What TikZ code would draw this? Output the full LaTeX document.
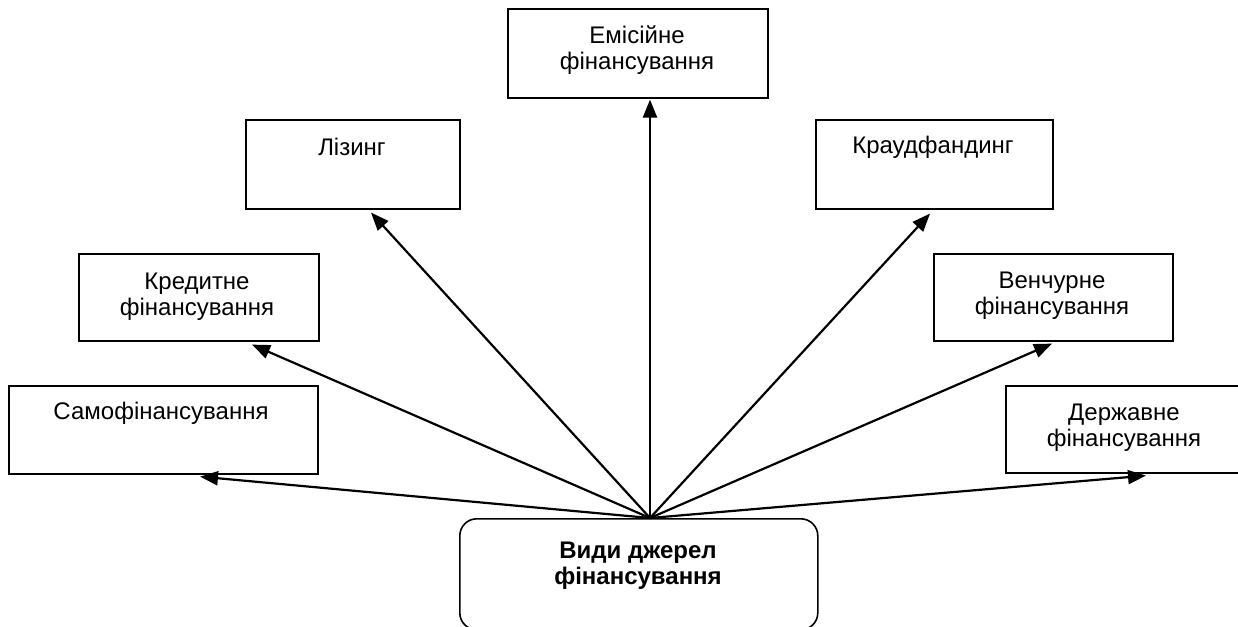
\documentclass[tikz,border=0pt]{standalone}
\usepackage{fontspec}
\setmainfont{Liberation Sans}
\usetikzlibrary{arrows.meta,calc}
\begin{document}
\begin{tikzpicture}[x=0.5pt,y=-0.5pt,
  box/.style={draw, line width=0.8pt, rectangle, inner sep=0pt, anchor=north west},
  txt/.style={align=center, inner sep=0pt, font=\fontsize{12pt}{13.2pt}\selectfont},
  arr/.style={-{Triangle[length=9pt,width=7pt]}, line width=1.1pt}]
\useasboundingbox (0,0) rectangle (1238,627);

% boxes
\node[box, minimum width=130pt, minimum height=44.5pt] (emis) at (507,8) {};
\node[box, minimum width=107pt, minimum height=44.5pt] (liz) at (245,119) {};
\node[box, minimum width=118.5pt, minimum height=44.5pt] (kraud) at (815,119) {};
\node[box, minimum width=120pt, minimum height=43.5pt] (kred) at (78,253) {};
\node[box, minimum width=119.5pt, minimum height=43.5pt] (venc) at (933,253) {};
\node[box, minimum width=154.5pt, minimum height=44pt] (samo) at (8,385) {};
\node[box, minimum width=122.5pt, minimum height=43.5pt] (derzh) at (1005,385) {};
\node[box, rounded corners=8.5pt, minimum width=179pt, minimum height=55.5pt] (bot) at (459,518) {};

% texts
\node[txt] (emis-t) at (637,50) {Емісійне\\фінансування};
\node[txt] (liz-t) at (352,147) {Лізинг};
\node[txt] (kraud-t) at (933,147) {Краудфандинг};
\node[txt] (kred-t) at (197,297) {Кредитне\\фінансування};
\node[txt] (venc-t) at (1052,296) {Венчурне\\фінансування};
\node[txt] (samo-t) at (161,413) {Самофінансування};
\node[txt] (derzh-t) at (1124,428) {Державне\\фінансування};
\node[txt, font=\fontsize{12pt}{13.2pt}\selectfont\bfseries] (bot-t) at (638,566) {Види джерел\\фінансування};

% connectors
\coordinate (src) at ($(bot.north west)+(191,0)$);
\draw[arr] (src) -- ($(samo.south west)+(192,2)$);
\draw[arr] (src) -- ($(kred.south west)+(174,3)$);
\draw[arr] (src) -- ($(liz.south west)+(126,3)$);
\draw[arr] (src) -- ($(emis.south west)+(143,1)$);
\draw[arr] (src) -- ($(kraud.south west)+(115,4)$);
\draw[arr] (src) -- ($(venc.south west)+(119,2)$);
\draw[arr] (src) -- ($(derzh.south west)+(141,2)$);
\end{tikzpicture}
\end{document}
